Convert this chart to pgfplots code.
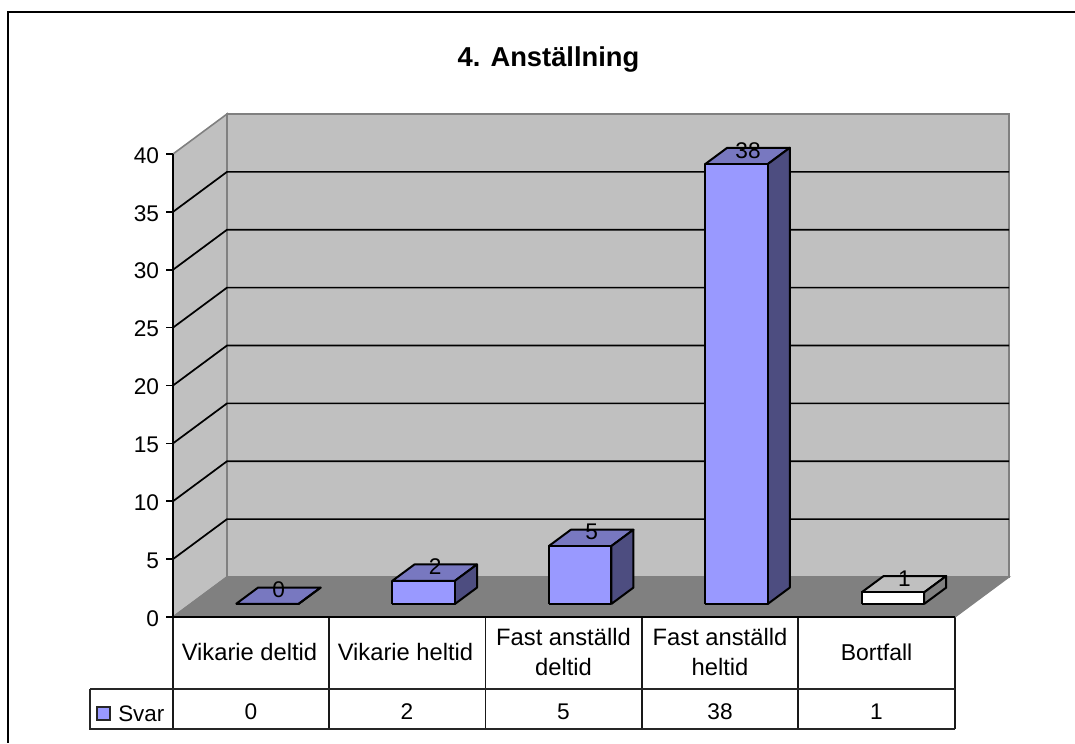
\documentclass[border=0pt]{standalone}
\usepackage{pgfplots}
\pgfplotsset{compat=1.18}
\usepackage{fontspec}
\setmainfont{Liberation Sans}
\definecolor{wall}{HTML}{C0C0C0}
\definecolor{edge}{HTML}{808080}
\definecolor{floorc}{HTML}{808080}
\definecolor{bfront}{HTML}{9999FF}
\definecolor{btop}{HTML}{7878C0}
\definecolor{bside}{HTML}{4D4D80}
% x0 x1 value front top side
\newcommand{\tdbar}[6]{%
  \addplot3[fill=#5,draw=black,line width=1.5pt,line join=round] coordinates {(#1,0.325,#3)(#2,0.325,#3)(#2,0.735,#3)(#1,0.735,#3)(#1,0.325,#3)};
  \addplot3[fill=#6,draw=black,line width=1.5pt,line join=round] coordinates {(#2,0.325,0)(#2,0.735,0)(#2,0.735,#3)(#2,0.325,#3)(#2,0.325,0)};
  \addplot3[fill=#4,draw=black,line width=1.5pt,line join=round] coordinates {(#1,0.325,0)(#2,0.325,0)(#2,0.325,#3)(#1,0.325,#3)(#1,0.325,0)};
}
\newcommand{\digitfont}{\fontsize{17pt}{20pt}\selectfont}
\begin{document}
\begin{tikzpicture}
\useasboundingbox (0,0) rectangle (806.25pt,557.25pt);
\begin{scope}[x=0.75pt,y=-0.75pt,yshift=557.25pt]
  % frame
  \draw[line width=1.6pt] (1075,12) -- (8,12) -- (8,743);
  % title
  \node[font=\bfseries\fontsize{20.5pt}{24pt}\selectfont] at (548.5,59) {4. Anställning};
  % table
  \draw[line width=1.4pt,black!90] (173,617) -- (173,729);
  \foreach \xx in {329,485.5,642,798,955} \draw[line width=1.4pt,black!90] (\xx,617) -- (\xx,729);
  \draw[line width=1.4pt,black!85] (90,689) -- (955,689);
  \draw[line width=1.4pt,black!85] (90,689) -- (90,729) -- (955,729);
  \draw[line width=1pt,black!85,fill=bfront] (97,707) rectangle (110,720);
  \begin{scope}[every node/.style={font=\fontsize{17.8pt}{23pt}\selectfont,align=center}]
    \node[anchor=west,inner sep=0pt,font=\fontsize{16.8pt}{20pt}\selectfont] at (118,714) {Svar};
    \node at (249.5,652) {Vikarie deltid};
    \node at (405.5,652) {Vikarie heltid};
    \node at (563.5,652) {Fast anställd\\deltid};
    \node at (720,652) {Fast anställd\\heltid};
    \node[font=\fontsize{17.2pt}{20pt}\selectfont] at (876.5,652) {Bortfall};
  \end{scope}
  \begin{scope}[every node/.style={font=\digitfont}]
    \node at (251,712) {0};
    \node at (407,712) {2};
    \node at (563.5,712) {5};
    \node at (720,712) {38};
    \node at (876.5,712) {1};
  \end{scope}
\end{scope}
\begin{axis}[
  at={(129.75pt,94.5pt)}, anchor=origin,
  x={(117.3pt,0pt)}, y={(40.5pt,30pt)}, z={(0pt,8.681pt)},
  xmin=0,xmax=5,ymin=0,ymax=1,zmin=0,zmax=40,
  clip=false,
  hide axis,
  /pgf/number format/assume math mode=true,
]
% walls and floor
\addplot3[fill=wall,draw=edge,line width=1.2pt] coordinates {(0,0,0)(0,1,0)(0,1,40)(0,0,40)(0,0,0)};
\addplot3[fill=wall,draw=edge,line width=1.2pt] coordinates {(0,1,0)(5,1,0)(5,1,40)(0,1,40)(0,1,0)};
\addplot3[fill=floorc,draw=edge,line width=1pt] coordinates {(0,0,0)(5,0,0)(5,1,0)(0,1,0)(0,0,0)};
% gridlines
\pgfplotsinvokeforeach{5,10,15,20,25,30,35}{
  \addplot3[draw=black,line width=1.3pt] coordinates {(0,0,#1)(0,1,#1)(5,1,#1)};
}
\addplot3[draw=black,line width=1.3pt] coordinates {(0,0,0)(5,0,0)};
% value axis with ticks and numbers
\addplot3[draw=black,line width=1.4pt,mark=-,mark size=2.7pt,
  mark options={xshift=-2.7pt,line width=1.2pt,draw=black},
  point meta=z,nodes near coords,
  every node near coord/.style={anchor=east,xshift=-7.2pt,yshift=-1pt,font=\digitfont,inner sep=0pt,text=black},
] coordinates {(0,0,0)(0,0,5)(0,0,10)(0,0,15)(0,0,20)(0,0,25)(0,0,30)(0,0,35)(0,0,40)};
% bars
\tdbar{0.29}{0.69}{0}{bfront}{btop}{bside}
\tdbar{1.29}{1.69}{2}{bfront}{btop}{bside}
\tdbar{2.29}{2.69}{5}{bfront}{btop}{bside}
\tdbar{3.29}{3.69}{38}{bfront}{btop}{bside}
\tdbar{4.29}{4.69}{1}{white}{wall}{edge}
% value labels
\addplot3[draw=none,mark=none,point meta=z,
  nodes near coords,
  every node near coord/.style={anchor=center,yshift=4pt,font=\digitfont,inner sep=0pt,text=black},
] coordinates {(0.49,0.54,0)(1.49,0.54,2)(2.49,0.54,5)(3.49,0.54,38)(4.49,0.54,1)};
\end{axis}
\end{tikzpicture}
\end{document}
